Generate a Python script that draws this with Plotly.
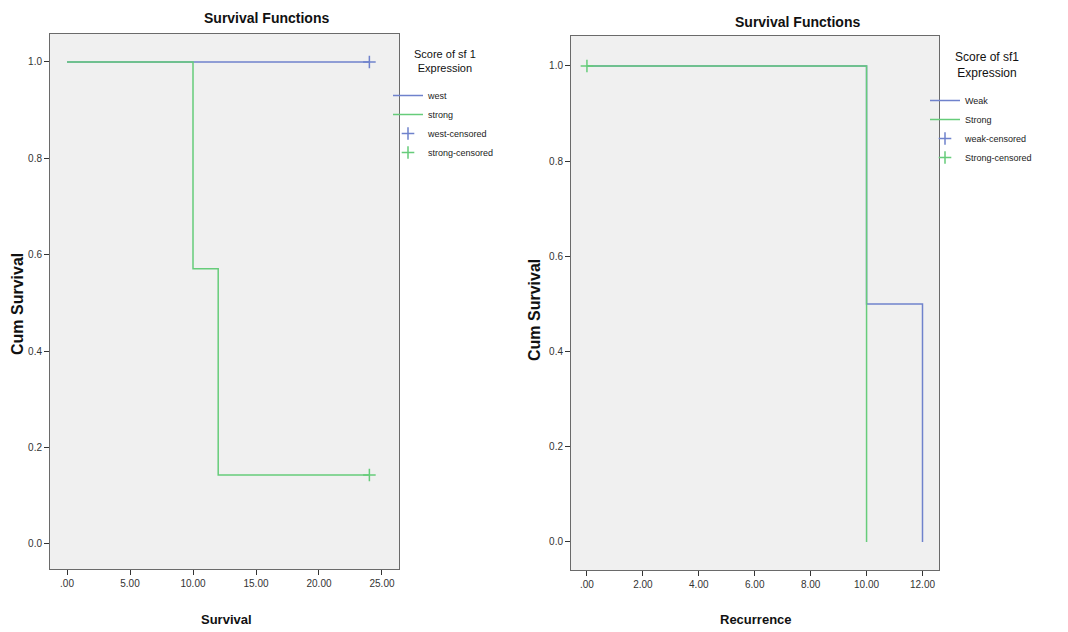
import plotly.graph_objects as go

# page body has an 8px margin, so the figure is made smaller and shifted
OFF = 8
W, H = 1068 - OFF, 632 - OFF

# ---- data: left panel (Survival) ----
left_weak_t = [0, 24]
left_weak_s = [1.0, 1.0]
left_strong_t = [0, 10, 12, 24]
left_strong_s = [1.0, 0.571, 0.143, 0.143]
left_weak_cens_t = [24]
left_weak_cens_s = [1.0]
left_strong_cens_t = [24]
left_strong_cens_s = [0.143]
left_x_ticks = [0, 5, 10, 15, 20, 25]
left_x_labels = [".00", "5.00", "10.00", "15.00", "20.00", "25.00"]

# ---- data: right panel (Recurrence) ----
right_weak_t = [0, 10, 12, 12]
right_weak_s = [1.0, 0.5, 0.5, 0.0]
right_strong_t = [0, 10, 10]
right_strong_s = [1.0, 1.0, 0.0]
right_strong_cens_t = [0]
right_strong_cens_s = [1.0]
right_x_ticks = [0, 2, 4, 6, 8, 10, 12]
right_x_labels = [".00", "2.00", "4.00", "6.00", "8.00", "10.00", "12.00"]

y_ticks = [0.0, 0.2, 0.4, 0.6, 0.8, 1.0]
y_labels = ["0.0", "0.2", "0.4", "0.6", "0.8", "1.0"]

BLUE = "#6f82cc"
GREEN = "#66cc7a"
FONT = "Liberation Sans Narrow, Liberation Sans, Arial, sans-serif"


def px(xp):
    return (xp - OFF) / W


def py(yp):
    return 1 - (yp - OFF) / H


fig = go.Figure()

# left panel traces
fig.add_trace(go.Scatter(x=left_weak_t, y=left_weak_s, mode="lines", line=dict(color=BLUE, width=1.5, shape="hv"),
                         name="west", legend="legend", xaxis="x", yaxis="y"))
fig.add_trace(go.Scatter(x=left_strong_t, y=left_strong_s, mode="lines", line=dict(color=GREEN, width=1.5, shape="hv"),
                         name="strong", legend="legend", xaxis="x", yaxis="y"))
fig.add_trace(go.Scatter(x=left_weak_cens_t, y=left_weak_cens_s, mode="markers",
                         marker=dict(symbol="cross-thin", size=9, line=dict(color=BLUE, width=1.5)),
                         name="west-censored", legend="legend", xaxis="x", yaxis="y"))
fig.add_trace(go.Scatter(x=left_strong_cens_t, y=left_strong_cens_s, mode="markers",
                         marker=dict(symbol="cross-thin", size=9, line=dict(color=GREEN, width=1.5)),
                         name="strong-censored", legend="legend", xaxis="x", yaxis="y"))

# right panel traces
fig.add_trace(go.Scatter(x=right_weak_t, y=right_weak_s, mode="lines", line=dict(color=BLUE, width=1.5, shape="hv"),
                         name="Weak", legend="legend2", xaxis="x2", yaxis="y2"))
fig.add_trace(go.Scatter(x=right_strong_t, y=right_strong_s, mode="lines", line=dict(color=GREEN, width=1.5, shape="hv"),
                         name="Strong", legend="legend2", xaxis="x2", yaxis="y2"))
fig.add_trace(go.Scatter(x=[None], y=[None], mode="markers",
                         marker=dict(symbol="cross-thin", size=9, line=dict(color=BLUE, width=1.5)),
                         name="weak-censored", legend="legend2", xaxis="x2", yaxis="y2"))
fig.add_trace(go.Scatter(x=right_strong_cens_t, y=right_strong_cens_s, mode="markers",
                         marker=dict(symbol="cross-thin", size=9, line=dict(color=GREEN, width=1.5)),
                         name="Strong-censored", legend="legend2", xaxis="x2", yaxis="y2"))

axis_common = dict(showgrid=False, zeroline=False, showline=True, mirror=True, linecolor="#6a6a6a", linewidth=1,
                   ticks="outside", ticklen=5, tickcolor="#333", tickfont=dict(family=FONT, size=10, color="#333"))

legend_common = dict(xanchor="left", yanchor="top", bgcolor="rgba(0,0,0,0)",
                     font=dict(family=FONT, size=9, color="#222"), itemwidth=30, tracegroupgap=0)

fig.update_layout(
    width=W, height=H,
    margin=dict(l=0, r=0, t=0, b=0),
    paper_bgcolor="white",
    plot_bgcolor="#f0f0f0",
    font=dict(family=FONT, color="#222"),
    xaxis=dict(domain=[px(50), px(399)], range=[-1.35, 26.35], tickvals=left_x_ticks, ticktext=left_x_labels,
               anchor="y", **axis_common),
    yaxis=dict(domain=[py(569), py(34)], range=[-0.052, 1.058], tickvals=y_ticks, ticktext=y_labels,
               anchor="x", **axis_common),
    xaxis2=dict(domain=[px(571), px(939)], range=[-0.57, 12.59], tickvals=right_x_ticks, ticktext=right_x_labels,
                anchor="y2", **axis_common),
    yaxis2=dict(domain=[py(570), py(36)], range=[-0.059, 1.063], tickvals=y_ticks, ticktext=y_labels,
                anchor="x2", **axis_common),
    legend=dict(x=px(388), y=py(81), **legend_common),
    legend2=dict(x=px(925), y=py(86), **legend_common),
    showlegend=True,
)

ann = [
    dict(text="<b>Survival Functions</b>", x=266, y=18, size=14, angle=0),
    dict(text="<b>Survival Functions</b>", x=797, y=22, size=14, angle=0),
    dict(text="<b>Survival</b>", x=226, y=619, size=13, angle=0),
    dict(text="<b>Recurrence</b>", x=756, y=619, size=13, angle=0),
    dict(text="<b>Cum Survival</b>", x=17, y=304, size=16, angle=-90),
    dict(text="<b>Cum Survival</b>", x=534, y=310, size=16, angle=-90),
    dict(text="Score of sf 1<br>Expression", x=445, y=61, size=11, angle=0),
    dict(text="Score of sf1<br>Expression", x=987, y=65, size=12, angle=0),
]
for a in ann:
    fig.add_annotation(text=a["text"], x=px(a["x"]), y=py(a["y"]), xref="paper", yref="paper", showarrow=False,
                       xanchor="center", yanchor="middle", textangle=a["angle"], align="center",
                       font=dict(family=FONT, size=a["size"], color="#111"))

fig.write_html("out.html")
